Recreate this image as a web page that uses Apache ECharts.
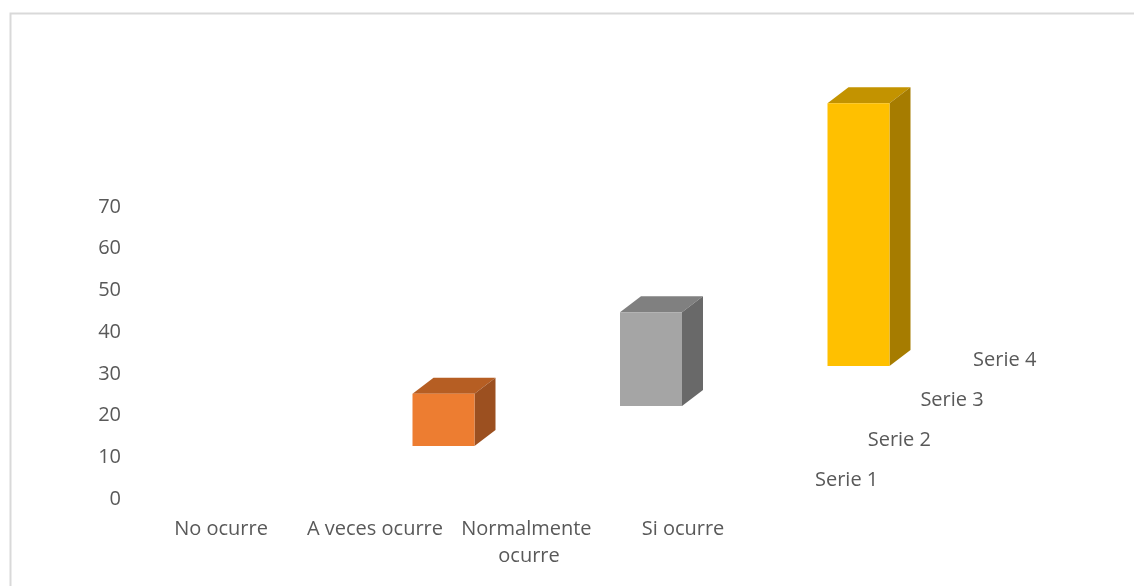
<!DOCTYPE html>
<html lang="es">
<head>
    <meta charset="UTF-8">
    <title>Gráfico 3D</title>
    <script src="https://cdn.jsdelivr.net/npm/echarts@6/dist/echarts.min.js"></script>
    <style>
        html, body { margin: 0; padding: 0; background: #fff; }
    </style>
</head>
<body>
    <div id="main" style="width: 1134px;height:586px;"></div>
    <script type="text/javascript">
        // datos
        var categorias = ['No ocurre', 'A veces ocurre', 'Normalmente ocurre', 'Si ocurre']
        var nombresSeries = ['Serie 1', 'Serie 2', 'Serie 3', 'Serie 4']
        var serie1 = [0, 0, 0, 0]
        var serie2 = [0, 12.5, 0, 0]
        var serie3 = [0, 0, 22.5, 0]
        var serie4 = [0, 0, 0, 63]
        var ticksY = [0, 10, 20, 30, 40, 50, 60, 70]

        var datosSeries = [serie1, serie2, serie3, serie4]
        // colores: frente, arriba, lado
        var colores = [
            ['#4472C4', '#34589A', '#2D4C84'],
            ['#ED7D31', '#B65E23', '#9C5020'],
            ['#A5A5A5', '#808080', '#696969'],
            ['#FFC000', '#C39300', '#A67C00']
        ]
        var fuente = '"Open Sans", sans-serif'
        var gris = '#595959'
        var tam = 20

        var myChart = echarts.init(document.getElementById('main'))

        // caja 3D para cada serie, desplazada en profundidad
        var hacerRender = k => (params, api) => {
            var idx = api.value(0)
            var val = api.value(1)
            var base = api.coord([idx, 0])
            var tope = api.coord([idx, val])
            var banda = api.size([1, 0])[0]
            var hijos = []
            var offX = 15 + 53.5 * k
            var offY = 13 + 40 * k
            var w = 62, ddx = 21, ddy = 16
            if (val > 0) {
                var x0 = base[0] + offX - w / 2
                var x1 = x0 + w
                var yb = base[1] - offY
                var yt = tope[1] - offY
                hijos.push({
                    type: 'polygon',
                    shape: { points: [[x0, yt], [x1, yt], [x1 + ddx, yt - ddy], [x0 + ddx, yt - ddy]] },
                    style: { fill: colores[k][1] }
                })
                hijos.push({
                    type: 'polygon',
                    shape: { points: [[x1, yt], [x1, yb], [x1 + ddx, yb - ddy], [x1 + ddx, yt - ddy]] },
                    style: { fill: colores[k][2] }
                })
                hijos.push({
                    type: 'rect',
                    shape: { x: x0, y: yt, width: w, height: yb - yt },
                    style: { fill: colores[k][0] }
                })
            }
            // etiqueta del eje de profundidad
            if (params.dataIndex === categorias.length - 1) {
                hijos.push({
                    type: 'text',
                    x: base[0] + banda / 2 + 55 + 52.7 * k,
                    y: base[1] - 19 - 40 * k,
                    style: {
                        text: nombresSeries[k],
                        fill: gris,
                        font: tam + 'px ' + fuente,
                        verticalAlign: 'middle',
                        align: 'left'
                    }
                })
            }
            return { type: 'group', children: hijos }
        }

        var option = {
            animation: false,
            backgroundColor: '#fff',
            textStyle: { fontFamily: fuente },
            graphic: [{
                type: 'rect',
                left: 8, top: 11,
                shape: { x: 0, y: 0, width: 1300, height: 800 },
                style: { fill: 'none', stroke: '#d9d9d9', lineWidth: 2 },
                z: -1
            }],
            grid: { left: 144, right: 374, top: 207, bottom: 87 },
            xAxis: {
                type: 'category',
                data: categorias,
                axisLine: { show: false },
                axisTick: { show: false },
                splitLine: { show: false },
                axisLabel: {
                    interval: 0,
                    color: gris,
                    fontSize: tam,
                    fontFamily: fuente,
                    width: 152,
                    overflow: 'break',
                    lineHeight: 27,
                    margin: 17
                }
            },
            yAxis: {
                type: 'value',
                min: ticksY[0],
                max: ticksY[ticksY.length - 1],
                interval: 10,
                axisLine: { show: false },
                axisTick: { show: false },
                splitLine: { show: false },
                axisLabel: {
                    color: gris,
                    fontSize: tam,
                    fontFamily: fuente,
                    margin: 23,
                    padding: [3, 0, 0, 0]
                }
            },
            series: datosSeries.map((d, k) => ({
                type: 'custom',
                name: nombresSeries[k],
                z: 10 - k,
                renderItem: hacerRender(k),
                encode: { x: 0, y: 1 },
                data: d.map((v, i) => [i, v])
            }))
        }
        myChart.setOption(option)
    </script>
</body>
</html>
